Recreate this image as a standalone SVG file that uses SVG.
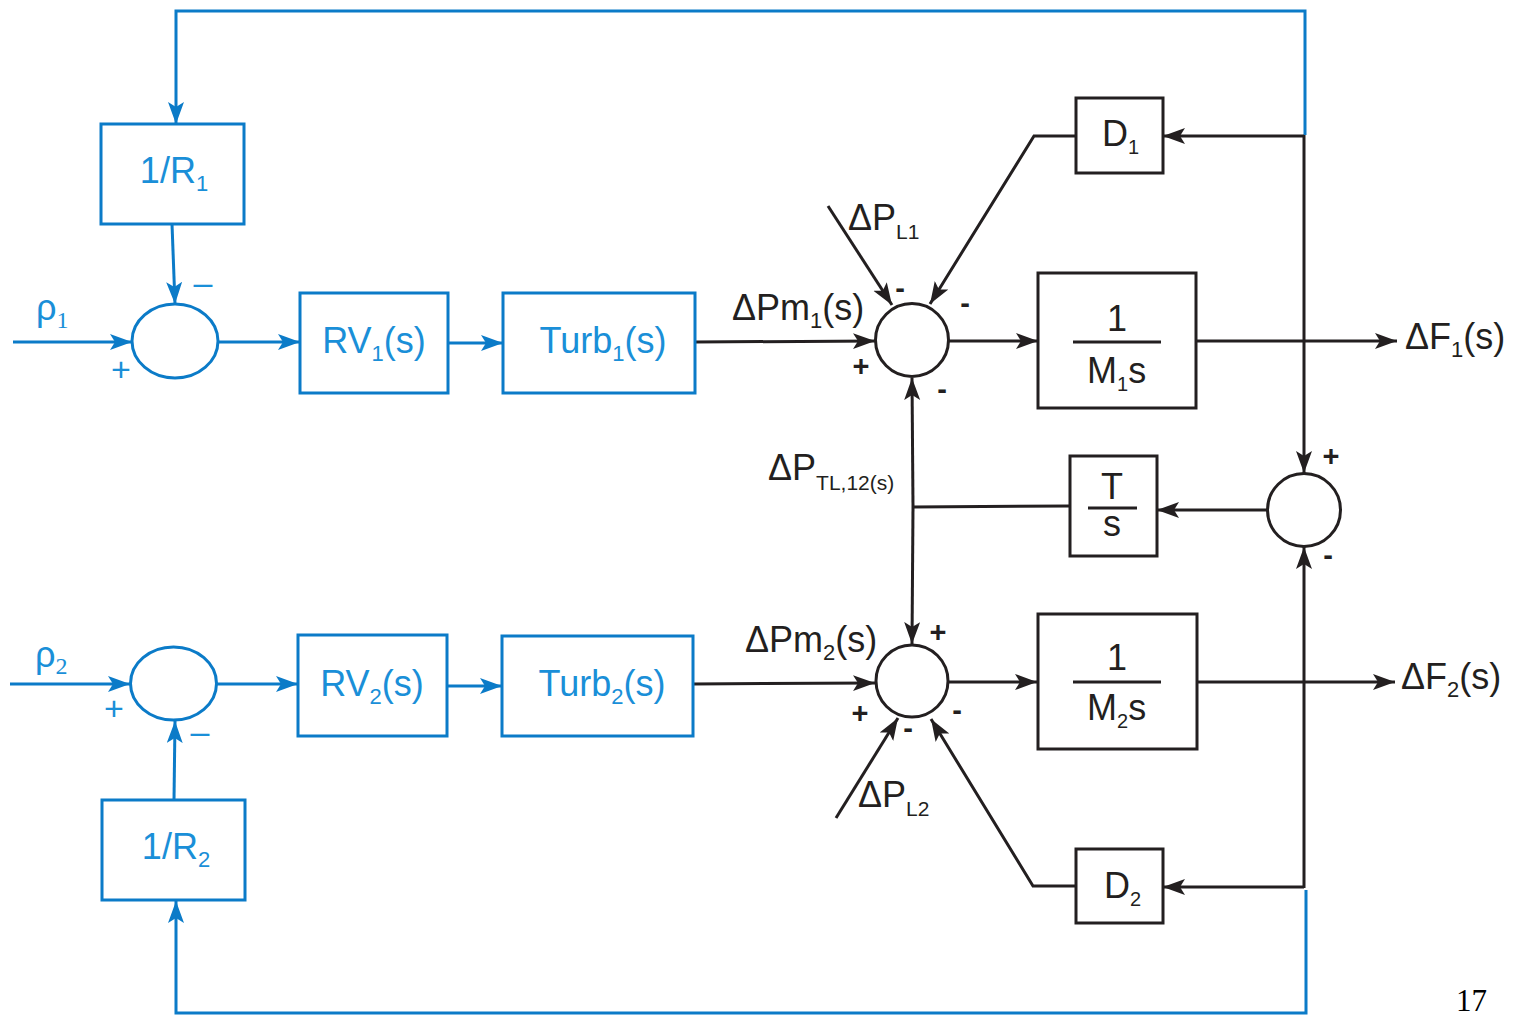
<svg xmlns="http://www.w3.org/2000/svg" width="1516" height="1015" viewBox="0 0 1516 1015">
<defs>
<marker id="ab" markerUnits="userSpaceOnUse" markerWidth="24" markerHeight="18" refX="22" refY="8" orient="auto" viewBox="0 0 24 18"><path d="M0,0 L22,8 L0,16 L5,8 z" fill="#0b7bc8"/></marker>
<marker id="ak" markerUnits="userSpaceOnUse" markerWidth="24" markerHeight="18" refX="22" refY="8" orient="auto" viewBox="0 0 24 18"><path d="M0,0 L22,8 L0,16 L5,8 z" fill="#231f20"/></marker>
<style>
.bb{fill:none;stroke:#0b7bc8;stroke-width:3}
.kb{fill:none;stroke:#231f20;stroke-width:3}
.bl{fill:none;stroke:#0b7bc8;stroke-width:3;marker-end:url(#ab)}
.kl{fill:none;stroke:#231f20;stroke-width:3;marker-end:url(#ak)}
.kn{fill:none;stroke:#231f20;stroke-width:3}
.bt{font-family:"Liberation Sans",Arial,sans-serif;font-size:36px;fill:#1a8fd8}
.kt{font-family:"Liberation Sans",Arial,sans-serif;font-size:36px;fill:#231f20}
.sg{font-family:"Liberation Sans",Arial,sans-serif;font-size:29px;fill:#231f20;font-weight:bold}
.bs{font-family:"Liberation Sans",Arial,sans-serif;font-size:34px;fill:#1a8fd8}
.rh{font-family:"Liberation Sans",Arial,sans-serif;font-size:36px;fill:#1a8fd8}
.sr{font-family:"Liberation Serif","Times New Roman",serif;fill:#1a8fd8}
</style>
</defs>

<g id="connectors">
<polyline class="bl" points="1305,135 1305,11 176,11 176,124"/>
<polyline class="bl" points="1306,890 1306,1013 176,1013 176,901"/>
<line class="bl" x1="13" y1="342" x2="132" y2="342"/>
<line class="bl" x1="172" y1="224" x2="175" y2="304"/>
<line class="bl" x1="218" y1="342" x2="300" y2="342"/>
<line class="bl" x1="448" y1="343" x2="503" y2="343"/>
<line class="bl" x1="10" y1="684" x2="130" y2="684"/>
<line class="bl" x1="174" y1="800" x2="175" y2="721"/>
<line class="bl" x1="217" y1="684" x2="298" y2="684"/>
<line class="bl" x1="447" y1="686" x2="502" y2="686"/>
<line class="kl" x1="695" y1="342" x2="875" y2="341"/>
<line class="kl" x1="828" y1="206" x2="892" y2="305"/>
<polyline class="kl" points="1076,136 1034,136 930,304"/>
<line class="kl" x1="948" y1="341" x2="1038" y2="341"/>
<line class="kl" x1="1196" y1="341" x2="1397" y2="341"/>
<line class="kl" x1="1304" y1="136" x2="1163" y2="136"/>
<line class="kl" x1="1304" y1="135" x2="1304" y2="473"/>
<line class="kl" x1="913" y1="507" x2="912" y2="378"/>
<line class="kl" x1="913" y1="507" x2="912" y2="644"/>
<line class="kn" x1="913" y1="507" x2="1070" y2="506"/>
<line class="kl" x1="1267" y1="510" x2="1157" y2="510"/>
<line class="kl" x1="693" y1="684" x2="875" y2="683"/>
<line class="kl" x1="836" y1="818" x2="898" y2="718"/>
<polyline class="kl" points="1076,886 1033,886 931,719"/>
<line class="kl" x1="948" y1="682" x2="1037" y2="682"/>
<line class="kl" x1="1197" y1="682" x2="1395" y2="682"/>
<line class="kl" x1="1304" y1="887" x2="1163" y2="887"/>
<line class="kl" x1="1304" y1="888" x2="1304" y2="547"/>
</g>

<g id="r1">
<rect class="bb" x="101" y="124" width="143" height="100"/>
<text class="bt" x="174" y="183" text-anchor="middle">1/R<tspan font-size="22" dy="8">1</tspan></text>
</g>
<g id="sum-a1">
<ellipse class="bb" cx="175" cy="341" rx="43" ry="37"/>
<text class="rh" x="36" y="320">ρ<tspan class="sr" font-size="24" dy="8">1</tspan></text>
<text class="bs" x="121" y="381" text-anchor="middle">+</text>
<text class="bs" x="203" y="294" text-anchor="middle" font-size="36">–</text>
</g>
<g id="rv1">
<rect class="bb" x="300" y="293" width="148" height="100"/>
<text class="bt" x="374" y="353" text-anchor="middle">RV<tspan font-size="22" dy="8">1</tspan><tspan dy="-8">(s)</tspan></text>
</g>
<g id="turb1">
<rect class="bb" x="503" y="293" width="192" height="100"/>
<text class="bt" x="603" y="353" text-anchor="middle">Turb<tspan font-size="22" dy="8">1</tspan><tspan dy="-8">(s)</tspan></text>
</g>

<g id="r2">
<rect class="bb" x="102" y="800" width="143" height="100"/>
<text class="bt" x="176" y="859" text-anchor="middle">1/R<tspan font-size="22" dy="8">2</tspan></text>
</g>
<g id="sum-a2">
<ellipse class="bb" cx="173.5" cy="683.5" rx="43" ry="36.5"/>
<text class="rh" x="35" y="667">ρ<tspan class="sr" font-size="24" dy="7">2</tspan></text>
<text class="bs" x="114" y="720" text-anchor="middle">+</text>
<text class="bs" x="200" y="743" text-anchor="middle" font-size="36">–</text>
</g>
<g id="rv2">
<rect class="bb" x="298" y="635" width="149" height="101"/>
<text class="bt" x="372" y="696" text-anchor="middle">RV<tspan font-size="22" dy="8">2</tspan><tspan dy="-8">(s)</tspan></text>
</g>
<g id="turb2">
<rect class="bb" x="502" y="636" width="191" height="100"/>
<text class="bt" x="602" y="696" text-anchor="middle">Turb<tspan font-size="22" dy="8">2</tspan><tspan dy="-8">(s)</tspan></text>
</g>

<g id="sum1">
<circle class="kb" cx="912" cy="340" r="36.5"/>
<text class="kt" x="732" y="320">ΔPm<tspan font-size="22" dy="8">1</tspan><tspan dy="-8">(s)</tspan></text>
<text class="kt" x="848" y="230" font-size="35">ΔP<tspan font-size="21" dy="9">L1</tspan></text>
<text class="sg" x="861" y="376" text-anchor="middle">+</text>
<text class="sg" x="900" y="298" text-anchor="middle">-</text>
<text class="sg" x="965" y="313" text-anchor="middle">-</text>
<text class="sg" x="942" y="399" text-anchor="middle">-</text>
</g>
<g id="d1">
<rect class="kb" x="1076" y="98" width="87" height="75"/>
<text class="kt" x="1102" y="146">D<tspan font-size="20" dy="8">1</tspan></text>
</g>
<g id="m1">
<rect class="kb" x="1038" y="273" width="158" height="135"/>
<text class="kt" x="1117" y="331" text-anchor="middle">1</text>
<line class="kn" x1="1073" y1="342" x2="1161" y2="342"/>
<text class="kt" x="1087" y="383">M<tspan font-size="20" dy="8">1</tspan><tspan dy="-8">s</tspan></text>
</g>
<text class="kt" x="1405" y="349">ΔF<tspan font-size="22" dy="8">1</tspan><tspan dy="-8">(s)</tspan></text>

<g id="tie">
<text class="kt" x="768" y="480">ΔP<tspan font-size="21" dy="10">TL,12(s)</tspan></text>
</g>
<g id="ts">
<rect class="kb" x="1070" y="456" width="87" height="100"/>
<text class="kt" x="1112" y="499" text-anchor="middle" font-size="34">T</text>
<line class="kn" x1="1088" y1="508" x2="1137" y2="508"/>
<text class="kt" x="1112" y="536" text-anchor="middle" font-size="32">s</text>
</g>
<g id="sum4">
<circle class="kb" cx="1304" cy="510" r="36.5"/>
<text class="sg" x="1331" y="466" text-anchor="middle">+</text>
<text class="sg" x="1328" y="565" text-anchor="middle">-</text>
</g>

<g id="sum2">
<circle class="kb" cx="912" cy="681" r="36"/>
<text class="kt" x="745" y="652">ΔPm<tspan font-size="22" dy="8">2</tspan><tspan dy="-8">(s)</tspan></text>
<text class="kt" x="858" y="807" font-size="35">ΔP<tspan font-size="21" dy="9">L2</tspan></text>
<text class="sg" x="938" y="642" text-anchor="middle">+</text>
<text class="sg" x="860" y="723" text-anchor="middle">+</text>
<text class="sg" x="908" y="738" text-anchor="middle">-</text>
<text class="sg" x="957" y="720" text-anchor="middle">-</text>
</g>
<g id="d2">
<rect class="kb" x="1076" y="849" width="87" height="74"/>
<text class="kt" x="1104" y="898">D<tspan font-size="20" dy="8">2</tspan></text>
</g>
<g id="m2">
<rect class="kb" x="1038" y="614" width="159" height="135"/>
<text class="kt" x="1117" y="670" text-anchor="middle">1</text>
<line class="kn" x1="1073" y1="682" x2="1161" y2="682"/>
<text class="kt" x="1087" y="720">M<tspan font-size="20" dy="8">2</tspan><tspan dy="-8">s</tspan></text>
</g>
<text class="kt" x="1401" y="689">ΔF<tspan font-size="22" dy="8">2</tspan><tspan dy="-8">(s)</tspan></text>

<text x="1456" y="1011" font-family="Liberation Serif,'Times New Roman',serif" font-size="31" fill="#000">17</text>
</svg>
